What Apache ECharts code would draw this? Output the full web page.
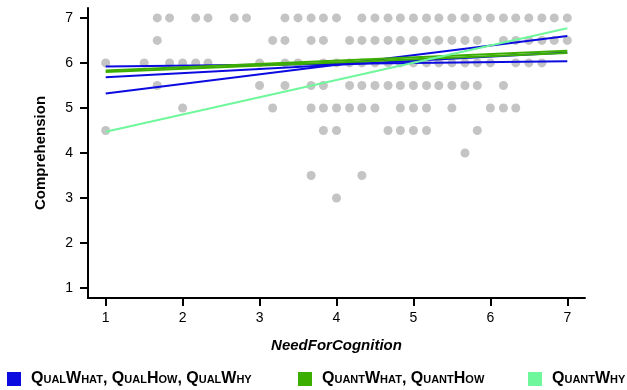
<!DOCTYPE html>
<html>
<head>
<meta charset="utf-8">
<script src="https://cdn.jsdelivr.net/npm/echarts@6/dist/echarts.min.js"></script>
<style>
  html, body { margin: 0; padding: 0; background: #fff; }
  #chart { width: 627px; height: 390px; }
</style>
</head>
<body>
<div id="chart"></div>
<script>
// NeedForCognition values of the gray points, one list per Comprehension level
const row7 = [1.67, 1.83, 2.17, 2.33, 2.67, 2.83, 3.33, 3.5, 3.67, 3.83, 4, 4.33, 4.5, 4.67, 4.83, 5, 5.17, 5.33, 5.5, 5.67, 5.83, 6, 6.17, 6.33, 6.5, 6.67, 6.83, 7];
const row65 = [1.67, 3.17, 3.33, 3.67, 3.83, 4.17, 4.33, 4.5, 4.67, 4.83, 5, 5.17, 5.33, 5.5, 5.67, 5.83, 6.17, 6.33, 6.5, 6.67, 6.83, 7];
const row6 = [1, 1.5, 1.83, 2, 2.17, 2.33, 3, 3.33, 3.5, 3.83, 4, 4.17, 4.33, 4.5, 4.67, 4.83, 5, 5.17, 5.33, 5.5, 5.67, 5.83, 6, 6.33, 6.5, 6.67];
const row55 = [1.67, 3, 3.33, 3.67, 3.83, 4.17, 4.33, 4.5, 4.67, 4.83, 5, 5.17, 5.33, 5.5, 5.67, 5.83, 6.17];
const row5 = [2, 3.17, 3.67, 3.83, 4, 4.17, 4.33, 4.5, 4.83, 5, 5.17, 5.5, 6, 6.17, 6.33];
const row45 = [1, 3.83, 4, 4.67, 4.83, 5, 5.17, 5.83];
const row4 = [5.67];
const row35 = [3.67, 4.33];
const row3 = [4];

// fitted lines: [value at x=1, value at x=7]
const qualFits = [[5.92, 6.04], [5.68, 6.23], [5.32, 6.60]];
const quantFits = [[5.83, 6.27], [5.80, 6.22]];
const quantWhyFit = [4.47, 6.77];

const ticks = [1, 2, 3, 4, 5, 6, 7];
const names = ["QualWhat, QualHow, QualWhy", "QuantWhat, QuantHow", "QuantWhy"];
const colors = ["#0b0be0", "#3cae00", "#6ff79b"];

const rows = [[7, row7], [6.5, row65], [6, row6], [5.5, row55], [5, row5], [4.5, row45], [4, row4], [3.5, row35], [3, row3]];
const points = [];
rows.forEach(([y, xs]) => xs.forEach((x) => points.push([x, y])));

const font = "'Liberation Sans', Arial, Helvetica, sans-serif";

const fitSeries = (name, color, fit) => ({
  name: name,
  type: "line",
  data: [[1, fit[0]], [7, fit[1]]],
  symbol: "none",
  z: 3,
  lineStyle: { color: color, width: 2 },
  itemStyle: { color: color },
});

const chart = echarts.init(document.getElementById("chart"));

const legendAt = (i, left) => ({
  data: [names[i]],
  left: left,
  top: 371,
  padding: 0,
  icon: "rect",
  itemWidth: 14,
  itemHeight: 14,
  selectedMode: false,
  textStyle: {
    fontFamily: font,
    fontWeight: "bold",
    fontStyle: "small-caps",
    fontSize: 16,
    color: "#000",
    padding: [0, 0, 0, 5],
  },
});

const axisCommon = {
  type: "value",
  nameLocation: "middle",
  nameTextStyle: { fontFamily: font, fontWeight: "bold", fontSize: 15, color: "#000" },
  axisLine: { show: true, lineStyle: { color: "#000", width: 2 } },
  axisTick: { show: true, length: 8, lineStyle: { color: "#000", width: 2 }, customValues: ticks },
  axisLabel: { fontFamily: font, fontSize: 14, color: "#000", margin: 15, customValues: ticks },
  splitLine: { show: false },
};

chart.setOption({
  animation: false,
  backgroundColor: "#fff",
  grid: { left: 88, right: 42, top: 8, bottom: 92 },
  legend: [legendAt(0, 7), legendAt(1, 298), legendAt(2, 528)],
  xAxis: Object.assign({}, axisCommon, {
    name: "NeedForCognition",
    nameGap: 40,
    min: 0.77,
    max: 7.23,
    axisLabel: Object.assign({}, axisCommon.axisLabel, { margin: 13 }),
    nameTextStyle: Object.assign({}, axisCommon.nameTextStyle, { fontStyle: "italic" }),
  }),
  yAxis: Object.assign({}, axisCommon, {
    name: "Comprehension",
    nameGap: 40,
    min: 0.78,
    max: 7.22,
  }),
  series: [
    {
      name: "points",
      type: "scatter",
      data: points,
      symbolSize: 9,
      z: 2,
      itemStyle: { color: "#c4c4c4", opacity: 1 },
    },
    ...qualFits.map((f) => fitSeries(names[0], colors[0], f)),
    ...quantFits.map((f) => fitSeries(names[1], colors[1], f)),
    fitSeries(names[2], colors[2], quantWhyFit),
  ],
});
</script>
</body>
</html>
